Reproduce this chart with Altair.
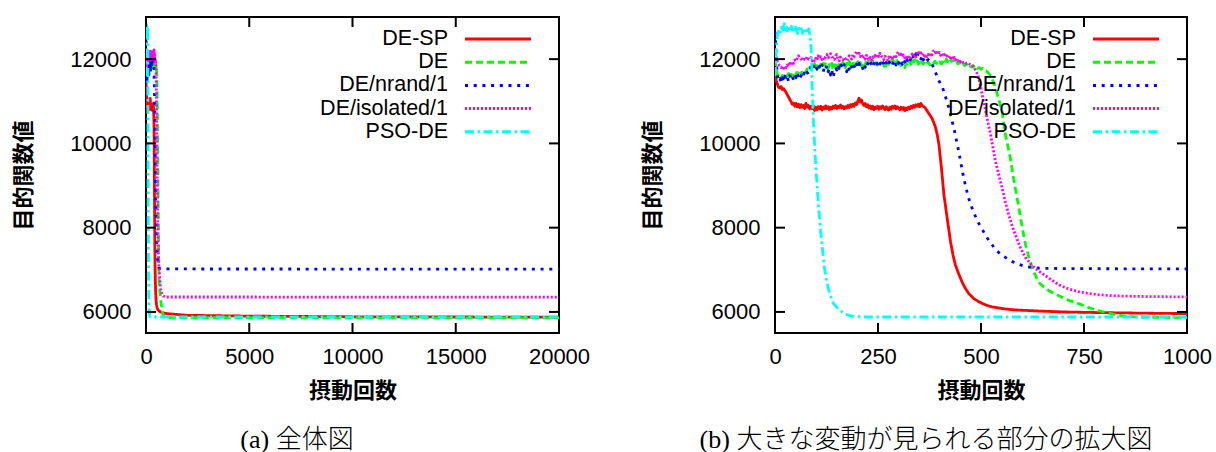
import altair as alt
import pandas as pd

series_names = ["DE-SP", "DE", "DE/nrand/1", "DE/isolated/1", "PSO-DE"]
series_colors = ["#ff0000", "#00ff00", "#0000ff", "#ff00ff", "#00ffff"]
series_dashes = [[1, 0], [7, 4], [3, 5.7], [2, 2], [9, 3.5, 2.5, 3.5]]

x_ticks_all = [0, 5000, 10000, 15000, 20000]
x_ticks_zoom = [0, 250, 500, 750, 1000]
y_ticks = [6000, 8000, 10000, 12000]
y_domain = [5500, 13000]

captions = ["(a) 全体図", "(b) 大きな変動が見られる部分の拡大図"]
x_title = "摂動回数"
y_title = "目的関数値"

de_sp = [(0,11650),(3,11480),(6,11400),(9,11330),(12,11310),(15,11350),(18,11280),(21,11300),(24,11250),(27,11210),(30,11150),(33,11100),(36,11040),(39,10990),(42,10930),(45,10960),(48,10880),(51,10950),(54,10870),(57,10930),(60,10850),(63,10920),(66,10860),(69,10900),(72,10830),(75,10950),(78,10860),(81,10900),(84,10820),(87,10880),(90,10830),(93,10900),(96,10780),(99,10860),(102,10800),(105,10870),(108,10820),(111,10880),(114,10790),(117,10860),(120,10820),(123,10890),(126,10830),(129,10870),(132,10800),(135,10860),(138,10820),(141,10880),(144,10840),(147,10900),(150,10830),(153,10880),(156,10850),(159,10910),(162,10840),(165,10880),(168,10820),(171,10870),(174,10840),(177,10900),(180,10850),(183,10920),(186,10870),(189,10930),(192,10880),(195,10960),(198,10920),(201,11000),(204,11070),(207,10980),(210,11030),(213,10940),(216,10900),(219,10950),(222,10870),(225,10920),(228,10840),(231,10890),(234,10820),(237,10880),(240,10800),(243,10860),(246,10830),(249,10880),(252,10810),(255,10870),(258,10830),(261,10890),(264,10840),(267,10800),(270,10870),(273,10820),(276,10790),(279,10860),(282,10810),(285,10880),(288,10840),(291,10890),(294,10820),(297,10870),(300,10830),(303,10800),(306,10860),(309,10810),(312,10850),(315,10780),(318,10840),(321,10800),(324,10860),(327,10820),(330,10880),(333,10840),(336,10900),(339,10860),(342,10920),(345,10880),(348,10930),(351,10870),(354,10950),(357,10900),(360,10880),(364,10850),(368,10790),(372,10730),(376,10670),(381,10600),(385,10500),(389,10400),(394,10200),(398,9970),(404,9410),(410,8780),(418,8220),(426,7670),(432,7350),(438,7110),(446,6900),(454,6710),(462,6560),(470,6440),(482,6320),(495,6240),(510,6170),(527,6120),(545,6090),(560,6070),(580,6050),(600,6040),(644,6020),(700,6000),(782,5985),(900,5970),(1000,5960),(2000,5920),(5000,5900),(10000,5885),(20000,5875)]

de = [(0,12000),(3,11750),(6,11640),(9,11580),(12,11620),(15,11560),(18,11610),(21,11580),(24,11660),(27,11570),(30,11610),(33,11660),(36,11590),(39,11640),(42,11570),(45,11620),(48,11580),(51,11650),(54,11690),(57,11610),(60,11700),(63,11650),(66,11690),(69,11640),(72,11730),(75,11680),(78,11770),(81,11730),(84,11810),(87,11770),(90,11840),(93,11790),(96,11880),(99,11820),(102,11900),(105,11850),(108,11800),(111,11880),(114,11820),(117,11900),(120,11840),(123,11920),(126,11860),(129,11780),(132,11870),(135,11820),(138,11900),(141,11760),(144,11860),(147,11810),(150,11900),(153,11780),(156,11860),(159,11950),(162,11850),(165,11920),(168,11860),(171,11800),(174,11900),(177,11840),(180,11950),(183,11870),(186,11800),(189,11900),(192,11840),(195,11960),(198,11880),(201,11940),(204,11860),(207,11920),(210,11830),(213,11890),(216,11800),(219,11880),(222,11950),(225,11890),(228,12010),(231,11920),(234,11870),(237,11960),(240,11880),(243,11820),(246,11920),(249,11860),(252,11950),(255,11880),(258,11930),(261,11860),(264,11800),(267,11900),(270,11850),(273,11930),(276,11880),(279,11960),(282,11900),(285,12000),(288,11920),(291,11970),(294,12020),(297,11940),(300,11880),(303,11960),(306,11850),(309,11920),(312,11860),(315,11800),(318,11900),(321,11840),(324,11920),(327,11960),(330,11880),(333,12000),(336,11930),(339,11980),(342,11900),(345,11960),(348,11880),(351,11920),(354,11860),(357,11930),(360,11880),(364,11950),(368,11890),(372,11930),(376,11860),(380,11920),(384,11880),(388,11950),(392,11900),(396,11860),(400,11930),(404,11880),(408,11960),(412,11900),(416,12000),(420,11940),(424,12010),(428,11950),(432,11990),(436,11920),(440,11960),(444,11890),(448,11930),(452,11870),(456,11910),(460,11850),(464,11890),(468,11830),(472,11870),(476,11810),(480,11850),(484,11800),(488,11830),(492,11780),(496,11800),(500,11760),(504,11780),(508,11730),(512,11720),(516,11690),(520,11650),(527,11540),(535,11330),(543,11050),(551,10770),(559,10220),(565,9950),(571,9660),(577,9300),(583,8950),(590,8580),(596,8240),(602,7900),(608,7600),(616,7300),(624,7050),(632,6870),(640,6700),(652,6600),(664,6510),(677,6440),(690,6380),(712,6280),(736,6200),(760,6110),(782,6040),(805,5980),(828,5930),(850,5900),(874,5885),(920,5870),(1000,5865),(2000,5862),(20000,5860)]

de_nrand = [(0,12650),(2,12300),(4,11850),(6,11600),(9,11480),(12,11540),(15,11450),(18,11560),(21,11480),(24,11600),(27,11500),(30,11570),(33,11470),(36,11610),(39,11520),(42,11590),(45,11500),(48,11620),(51,11560),(54,11670),(57,11560),(60,11640),(63,11590),(66,11680),(69,11610),(72,11700),(75,11630),(78,11690),(81,11640),(84,11740),(87,11800),(90,11860),(93,11780),(96,11900),(99,11820),(102,11760),(105,11880),(108,11800),(111,11740),(114,11860),(117,11700),(120,11820),(123,11760),(126,11850),(129,11700),(132,11780),(135,11620),(138,11740),(141,11560),(144,11700),(147,11800),(150,11740),(153,11860),(156,11780),(159,11900),(162,11820),(165,11760),(168,11870),(171,11790),(174,11700),(177,11840),(180,11760),(183,11880),(186,11810),(189,11920),(192,11830),(195,11760),(198,11880),(201,11800),(204,11900),(207,11820),(210,11870),(213,11780),(216,11700),(219,11820),(222,11760),(225,11900),(228,11840),(231,11930),(234,11860),(237,11800),(240,11900),(243,11840),(246,11930),(249,11860),(252,11800),(255,11900),(258,11850),(261,11950),(264,11880),(267,11820),(270,11920),(273,11860),(276,11960),(279,11890),(282,11940),(285,11870),(288,11990),(291,11920),(294,11860),(297,11960),(300,11900),(303,12000),(306,11930),(309,11880),(312,11990),(315,11930),(318,12060),(321,11970),(324,12030),(327,11950),(330,12020),(333,11960),(336,12090),(339,12010),(342,12130),(345,12040),(348,12150),(351,12050),(354,12000),(357,12090),(360,11980),(364,12050),(368,11960),(372,11990),(376,11900),(381,11880),(385,11800),(389,11700),(393,11600),(397,11500),(401,11430),(406,11350),(410,11220),(414,11100),(418,10970),(422,10840),(428,10600),(434,10370),(440,10090),(446,9810),(452,9490),(458,9180),(464,8930),(470,8700),(478,8470),(486,8280),(494,8110),(503,7960),(511,7820),(519,7700),(527,7590),(535,7490),(543,7410),(551,7350),(563,7270),(575,7200),(591,7130),(608,7080),(624,7055),(640,7040),(670,7032),(700,7030),(800,7025),(1000,7020),(20000,7015)]

de_isolated = [(0,12250),(3,12050),(6,11930),(9,11870),(12,11840),(15,11800),(18,11830),(21,11780),(24,11840),(27,11800),(30,11860),(33,11830),(36,11900),(39,11860),(42,11940),(45,11900),(48,11980),(51,11950),(54,12020),(57,12080),(60,12030),(63,12000),(66,11960),(69,12050),(72,11990),(75,11980),(78,12060),(81,12000),(84,11990),(87,12040),(90,11960),(93,12010),(96,11950),(99,12020),(102,11970),(105,12080),(108,12010),(111,12060),(114,11990),(117,12040),(120,11980),(123,12080),(126,12110),(129,12030),(132,12090),(135,12130),(138,12060),(141,12020),(144,11990),(147,12080),(150,12110),(153,12010),(156,11960),(159,12050),(162,12000),(165,11980),(168,12040),(171,12010),(174,11960),(177,12020),(180,12080),(183,12030),(186,12000),(189,12110),(192,12060),(195,12130),(198,12190),(201,12100),(204,12140),(207,12060),(210,12120),(213,12020),(216,12070),(219,12000),(222,12090),(225,12030),(228,11980),(231,12040),(234,11970),(237,12050),(240,12010),(243,12090),(246,12050),(249,12120),(252,12060),(255,12140),(258,12070),(261,12030),(264,11990),(267,12070),(270,12020),(273,11980),(276,12050),(279,12000),(282,12080),(285,12030),(288,12000),(291,12100),(294,12060),(297,12140),(300,12170),(303,12080),(306,12120),(309,12050),(312,12100),(315,12030),(318,12080),(321,12010),(324,12050),(327,12000),(330,12070),(333,12120),(336,12060),(339,12110),(342,12050),(345,12120),(348,12190),(351,12110),(354,12150),(357,12090),(360,12140),(363,12070),(366,12100),(369,12050),(372,12110),(375,12060),(378,12140),(381,12100),(384,12190),(387,12220),(390,12150),(393,12190),(396,12110),(399,12160),(402,12090),(405,12140),(408,12070),(411,12110),(414,12050),(417,12080),(420,12030),(423,12090),(426,12020),(429,12060),(432,11990),(435,12040),(438,11980),(441,12010),(444,11960),(447,11990),(450,11940),(453,11970),(456,11920),(460,11940),(464,11900),(468,11910),(472,11880),(478,11860),(482,11820),(486,11750),(490,11670),(494,11570),(498,11400),(502,11200),(506,11000),(511,10770),(517,10500),(523,10220),(529,9900),(535,9580),(543,9260),(551,8950),(559,8620),(567,8320),(575,8060),(583,7840),(595,7540),(608,7290),(624,7100),(640,6970),(665,6800),(690,6640),(712,6550),(736,6480),(760,6440),(782,6410),(828,6380),(900,6365),(1000,6355),(20000,6350)]

pso_de = [(0,11600),(2,12000),(4,12350),(6,12550),(8,12650),(10,12720),(13,12640),(16,12760),(19,12690),(22,12880),(25,12700),(28,12760),(31,12620),(34,12720),(37,12660),(40,12780),(43,12630),(46,12720),(49,12800),(52,12690),(55,12610),(58,12730),(61,12660),(64,12720),(67,12610),(70,12700),(73,12640),(76,12740),(79,12680),(82,12720),(84,12600),(86,12500),(88,12200),(90,11400),(93,10600),(96,10000),(100,9300),(105,8600),(110,8000),(115,7500),(120,7050),(126,6700),(133,6420),(142,6200),(155,6060),(170,5950),(187,5900),(210,5880),(1000,5880),(20000,5880)]

all_series = [de_sp, de, de_nrand, de_isolated, pso_de]

rows = []
for k, (name, pts) in enumerate(zip(series_names, all_series)):
    for x, y in pts:
        rows.append({"series": name, "k": k, "x": x, "y": y})
df = pd.DataFrame(rows)

H = 316
FONT = "Liberation Sans"
CJK = "Noto Sans CJK JP"

color_scale = alt.Scale(domain=series_names, range=series_colors)
dash_scale = alt.Scale(domain=series_names, range=series_dashes)


def panel(width, xmax, xticks, caption, zoomed):
    data = df[df["x"] <= xmax] if zoomed else df
    x_axis = alt.Axis(
        values=xticks, title=x_title, format="d",
        labelPadding=13, labelFlush=False, labelOverlap=False,
        titleX=width / 2, titleY=57, titleBaseline="middle",
    )
    y_axis = alt.Axis(
        values=y_ticks, title=y_title, format="d",
        labelPadding=15, labelOverlap=False,
        titleX=-123, titleY=H / 2, titleBaseline="middle",
    )
    x_scale = alt.Scale(domain=[0, xmax], nice=False, zero=False)
    y_scale = alt.Scale(domain=y_domain, nice=False, zero=False)

    def X():
        return alt.X("x:Q", scale=x_scale, axis=x_axis)

    def Y():
        return alt.Y("y:Q", scale=y_scale, axis=y_axis)

    lines = alt.Chart(data).mark_line(clip=True, strokeWidth=2.8, strokeJoin="round").encode(
        x=X(),
        y=Y(),
        color=alt.Color("series:N", scale=color_scale, legend=None),
        strokeDash=alt.StrokeDash("series:N", scale=dash_scale, legend=None),
        order=alt.Order("x:Q"),
        detail="k:O",
    )
    xt = pd.DataFrame({"x": xticks})
    yt = pd.DataFrame({"y": y_ticks})
    xtick_b = alt.Chart(xt).mark_rule(color="black", strokeWidth=2).encode(
        x=X(), y=alt.value(H), y2=alt.value(H - 10))
    xtick_t = alt.Chart(xt).mark_rule(color="black", strokeWidth=2).encode(
        x=X(), y=alt.value(0), y2=alt.value(10))
    ytick_l = alt.Chart(yt).mark_rule(color="black", strokeWidth=2).encode(
        y=Y(), x=alt.value(0), x2=alt.value(10))
    ytick_r = alt.Chart(yt).mark_rule(color="black", strokeWidth=2).encode(
        y=Y(), x=alt.value(width), x2=alt.value(width - 10))

    leg = pd.DataFrame({"series": series_names, "i": list(range(len(series_names)))})
    leg_text = alt.Chart(leg).mark_text(
        align="right", baseline="middle", font=FONT, fontSize=21.5, color="black"
    ).transform_calculate(ly="22 + 23.2 * datum.i").encode(
        x=alt.value(width - 111), y=alt.Y("ly:Q", scale=None), text="series:N")
    leg_line = alt.Chart(leg).mark_rule(strokeWidth=3).transform_calculate(
        ly="22 + 23.2 * datum.i").encode(
        x=alt.value(width - 94), x2=alt.value(width - 28),
        y=alt.Y("ly:Q", scale=None),
        color=alt.Color("series:N", scale=color_scale, legend=None),
        strokeDash=alt.StrokeDash("series:N", scale=dash_scale, legend=None),
    )
    cap = alt.Chart(pd.DataFrame({"t": [caption]})).mark_text(
        align="center", baseline="middle",
        font="Liberation Serif, " + CJK, fontSize=26, fontWeight=300, color="black"
    ).encode(x=alt.value(151), y=alt.value(423), text="t:N")

    return alt.layer(lines, xtick_b, xtick_t, ytick_l, ytick_r, leg_text, leg_line, cap).properties(
        width=width, height=H)


left = panel(413, 20000, x_ticks_all, captions[0], False)
right = panel(412, 1000, x_ticks_zoom, captions[1], True)

chart = alt.hconcat(left, right, spacing=49).properties(
    padding={"left": 11, "top": 15, "right": 0, "bottom": 0}
).configure_view(stroke="black", strokeWidth=2).configure_axis(
    domain=False, ticks=False, grid=False,
    labelFont=FONT, labelFontSize=22, labelColor="black",
    titleFont=CJK, titleFontSize=22, titleFontWeight="bold", titleColor="black",
)

chart.save("out.html", embed_options={"renderer": "svg", "actions": False})
